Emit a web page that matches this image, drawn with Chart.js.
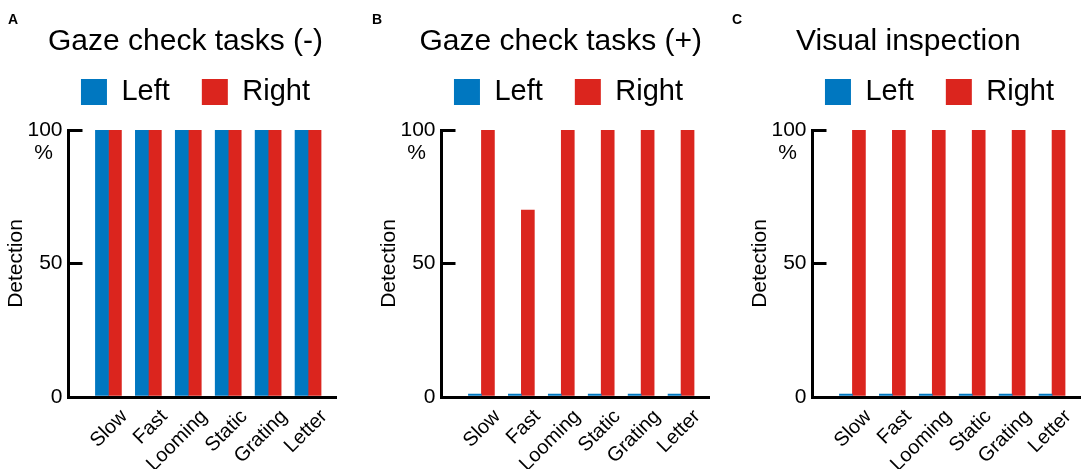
<!DOCTYPE html>
<html>
<head>
<meta charset="utf-8">
<script src="https://cdn.jsdelivr.net/npm/chart.js@4.4.1/dist/chart.umd.min.js"></script>
<style>
  html, body { margin: 0; padding: 0; background: #fff; overflow: hidden; }
  #figure { position: relative; width: 1084px; height: 469px; }
  #figure canvas { position: absolute; top: 0; }
  .letter { position: absolute; top: 12px; font: bold 14px "Liberation Sans", Arial, sans-serif; line-height: 14px; color: #000; }
</style>
</head>
<body>
<div id="figure">
  <canvas id="panelA" width="340" height="469" style="left:0px"></canvas>
  <canvas id="panelB" width="340" height="469" style="left:373px"></canvas>
  <canvas id="panelC" width="340" height="469" style="left:744px"></canvas>
  <div class="letter" style="left:8px">A</div>
  <div class="letter" style="left:372px">B</div>
  <div class="letter" style="left:732px">C</div>
</div>
<script>
"use strict";

// categories and tick values
var categories = ["Slow", "Fast", "Looming", "Static", "Grating", "Letter"];
var seriesNames = ["Left", "Right"];
var yTicks = [0, 50, 100];

// detection (%) per panel
var leftNoCheck = [100, 100, 100, 100, 100, 100];
var rightNoCheck = [100, 100, 100, 100, 100, 100];
var leftWithCheck = [0, 0, 0, 0, 0, 0];
var rightWithCheck = [100, 70, 100, 100, 100, 100];
var leftInspection = [0, 0, 0, 0, 0, 0];
var rightInspection = [100, 100, 100, 100, 100, 100];

var BLUE = "#0077c0";
var RED = "#db251e";

Chart.defaults.font.family = '"Liberation Sans", Arial, sans-serif';
Chart.defaults.color = "#000";

/**
 * Moves the title and legend relative to the plot area and writes the "%" unit under the top tick.
 */
var panelLayout = {
    id: "panelLayout",
    afterLayout: function (chart, args, opts) {
        var area = chart.chartArea;
        var legend = chart.legend;
        var h = legend.height;
        chart.titleBlock.left = area.left + opts.titleShift;
        chart.titleBlock.right = chart.width;
        legend.left = area.left + opts.legendCenter - 150;
        legend.right = area.left + opts.legendCenter + 150;
        legend.top = opts.legendTop;
        legend.bottom = opts.legendTop + h;
    },
    afterDraw: function (chart) {
        var ctx = chart.ctx;
        var y = chart.scales.y.getPixelForValue(yTicks[yTicks.length - 1]);
        ctx.save();
        ctx.font = '21px "Liberation Sans", Arial, sans-serif';
        ctx.fillStyle = "#000";
        ctx.textAlign = "center";
        ctx.textBaseline = "middle";
        ctx.fillText("%", chart.chartArea.left - 25, y + 23);
        ctx.restore();
    }
};

function toPoints(values) {
    return values.map(function (v, i) {
        return { x: i, y: v };
    });
}

function makeChart(canvasId, titleText, leftValues, rightValues, titleShift) {
    return new Chart(document.getElementById(canvasId), {
        type: "bar",
        plugins: [panelLayout],
        data: {
            datasets: [
                { label: seriesNames[0], data: toPoints(leftValues), backgroundColor: BLUE, borderWidth: 0, barThickness: 13, minBarLength: 3 },
                { label: seriesNames[1], data: toPoints(rightValues), backgroundColor: RED, borderWidth: 0, barThickness: 13, minBarLength: 3 }
            ]
        },
        options: {
            responsive: false,
            animation: false,
            events: [],
            layout: { padding: { top: 0, right: 4, bottom: 0, left: 0 } },
            scales: {
                x: {
                    type: "linear",
                    offset: false,
                    min: -1,
                    max: 5.7,
                    bounds: "data",
                    afterBuildTicks: function (scale) {
                        scale.ticks = categories.map(function (c, i) { return { value: i }; });
                    },
                    afterFit: function (scale) {
                        scale.height = 72;
                        scale.paddingLeft = 0;
                        scale.paddingRight = 0;
                    },
                    grid: { display: false, drawTicks: false, offset: false },
                    border: { display: true, color: "#000", width: 3 },
                    ticks: {
                        autoSkip: false,
                        minRotation: 45,
                        maxRotation: 45,
                        labelOffset: 16,
                        padding: 8,
                        color: "#000",
                        font: { size: 20 },
                        callback: function (value) { return categories[value]; }
                    }
                },
                y: {
                    min: 0,
                    max: 100,
                    afterBuildTicks: function (scale) {
                        scale.ticks = yTicks.map(function (v) { return { value: v }; });
                    },
                    afterFit: function (scale) {
                        scale.width = 68.5;
                    },
                    grid: { drawOnChartArea: false, drawTicks: true, tickLength: -14, lineWidth: 3, color: "#000" },
                    border: { color: "#000", width: 3 },
                    ticks: { padding: 20, color: "#000", font: { size: 21 } },
                    title: { display: true, text: "Detection", color: "#000", font: { size: 21 }, padding: { top: 3.5, bottom: 0 } }
                }
            },
            plugins: {
                panelLayout: { titleShift: titleShift, legendCenter: 127, legendTop: 45.5 },
                title: {
                    display: true,
                    text: titleText,
                    align: "start",
                    color: "#000",
                    font: { size: 30, weight: "normal", lineHeight: 1 },
                    padding: { top: 26.5, bottom: 2.5 }
                },
                legend: {
                    display: true,
                    position: "top",
                    align: "center",
                    labels: { boxWidth: 26, boxHeight: 26, padding: 32, color: "#000", font: { size: 29 } }
                },
                tooltip: { enabled: false }
            }
        }
    });
}

makeChart("panelA", "Gaze check tasks (-)", leftNoCheck, rightNoCheck, -20.5);
makeChart("panelB", "Gaze check tasks (+)", leftWithCheck, rightWithCheck, -22);
makeChart("panelC", "Visual inspection", leftInspection, rightInspection, -16.5);
</script>
</body>
</html>
